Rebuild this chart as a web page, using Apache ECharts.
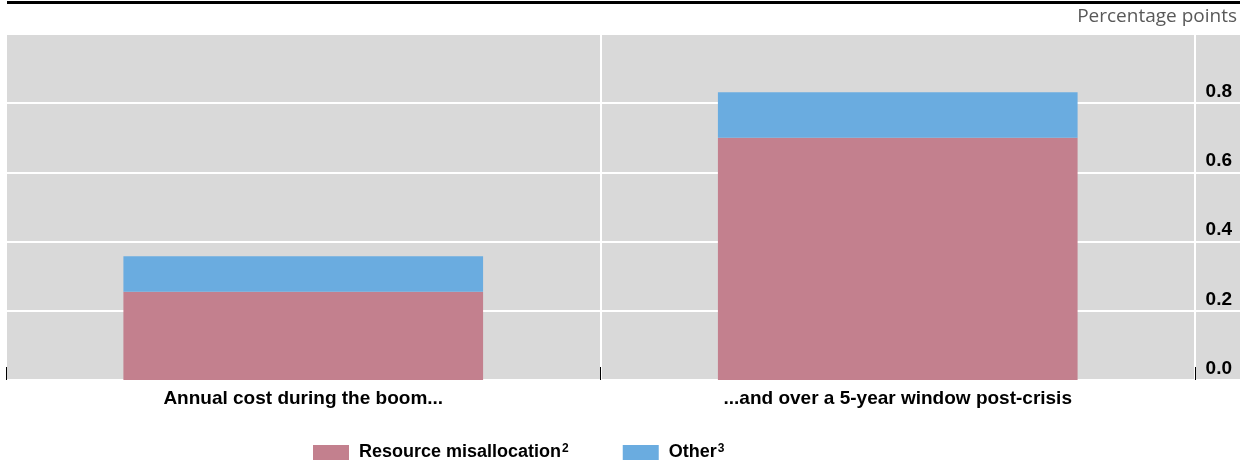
<!DOCTYPE html>
<html><head><meta charset="utf-8">
<script src="https://cdn.jsdelivr.net/npm/echarts@6/dist/echarts.min.js"></script>
<style>html,body{margin:0;padding:0;background:#fff}#c{width:1247px;height:464px}</style>
</head><body><div id="c"></div>
<script>
const categories = ['Annual cost during the boom...', '...and over a 5-year window post-crisis'];
const seriesNames = ['Resource misallocation', 'Other'];
const footnotes = ['2', '3'];
const resourceMisallocation = [0.255, 0.700];
const other = [0.103, 0.132];
const yMin = 0, yMax = 1, yInterval = 0.2;
const unitLabel = 'Percentage points';

const chart = echarts.init(document.getElementById('c'), null, {renderer:'canvas'});
const font = '"Liberation Sans", Arial, sans-serif';
chart.setOption({
  animation:false,
  graphic:[
    {type:'rect', left:7, top:1, shape:{width:1233, height:3}, style:{fill:'#000'}},
    {type:'text', x:1237, y:17, style:{text:unitLabel, fill:'#595959', font:'normal 19px "Open Sans", "Noto Sans", sans-serif', textAlign:'right', textVerticalAlign:'middle'}}
  ],
  legend:{left:308, top:438, itemWidth:36, itemHeight:15, itemGap:54, icon:'rect', data: seriesNames,
    formatter: name => name + '{sup|' + footnotes[seriesNames.indexOf(name)] + '}',
    textStyle:{fontFamily:font, fontSize:18, fontWeight:'bold', color:'#000', padding:[0,0,0,5],
      rich:{sup:{fontFamily:font,fontSize:12,fontWeight:'bold',verticalAlign:'bottom', padding:[0,0,7,1], color:'#000'}}}},
  grid:[
    {left:6, right:7, top:34, bottom:84, show:true, backgroundColor:'#d9d9d9', borderWidth:0},
    {left:6, right:52, top:34, bottom:84}
  ],
  xAxis:[
    {gridIndex:0, type:'value', show:false, min:0, max:1},
    {gridIndex:1, type:'category', data:categories, axisLine:{show:false},
     axisTick:{show:true, inside:true, length:13, lineStyle:{color:'#000', width:1}},
     splitLine:{show:true, lineStyle:{color:'#fff', width:2}},
     axisLabel:{fontFamily:font, fontSize:19, fontWeight:'bold', color:'#000', margin:9}}
  ],
  yAxis:[
    {gridIndex:0, type:'value', position:'right', min:yMin, max:yMax, interval:yInterval,
     axisLine:{show:false}, axisTick:{show:false},
     splitLine:{lineStyle:{color:'#fff', width:2}},
     axisLabel:{inside:true, margin:8, showMaxLabel:false, verticalAlign:'bottom', padding:[0,0,2,0], formatter: v=>v.toFixed(1),
       fontFamily:font, fontSize:19, fontWeight:'bold', color:'#000'}},
    {gridIndex:1, type:'value', min:yMin, max:yMax, show:false}
  ],
  series:[
    {name:seriesNames[0], type:'bar', stack:'t', xAxisIndex:1, yAxisIndex:1, data:resourceMisallocation, barWidth:'60.5%', itemStyle:{color:'#c3808e'}},
    {name:seriesNames[1], type:'bar', stack:'t', xAxisIndex:1, yAxisIndex:1, data:other, barWidth:'60.5%', itemStyle:{color:'#6aace0'}}
  ]
});
</script></body></html>
